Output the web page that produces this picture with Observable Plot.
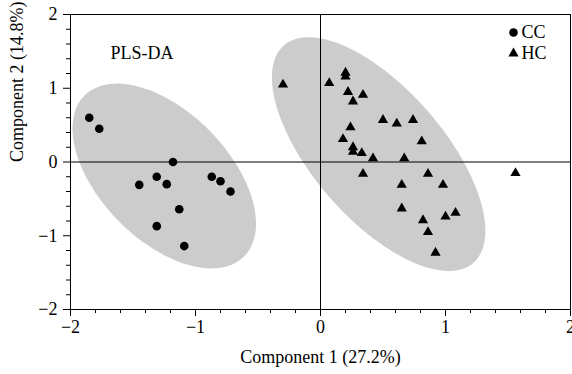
<!DOCTYPE html>
<html><head><meta charset="utf-8">
<script src="https://cdn.jsdelivr.net/npm/d3@7"></script>
<script src="https://cdn.jsdelivr.net/npm/@observablehq/plot@0.6"></script>
<style>body{margin:0;background:#fff}</style>
</head><body><div id="chart"></div>
<script>
// CC group scores
const ccX = [-1.85, -1.77, -1.18, -1.45, -1.31, -1.23, -0.87, -0.80, -0.72, -1.13, -1.31, -1.09];
const ccY = [0.60, 0.45, 0.00, -0.31, -0.20, -0.30, -0.20, -0.26, -0.40, -0.64, -0.87, -1.14];
// HC group scores
const hcX = [-0.30, 0.07, 0.20, 0.20, 0.22, 0.34, 0.26, 0.50, 0.61, 0.74, 0.81, 0.24, 0.18, 0.26, 0.26, 0.33, 0.42, 0.67, 0.34, 0.86, 0.98, 0.65, 0.65, 1.08, 1.00, 0.82, 0.86, 0.92, 1.56];
const hcY = [1.05, 1.07, 1.21, 1.16, 0.95, 0.91, 0.82, 0.57, 0.52, 0.57, 0.28, 0.47, 0.31, 0.20, 0.14, 0.12, 0.05, 0.05, -0.16, -0.16, -0.31, -0.31, -0.63, -0.69, -0.74, -0.79, -0.95, -1.23, -0.15];
// confidence ellipses: centre, half-extent in x and y, phase (deg)
const ellGroups = ["CC", "HC"];
const ellCx = [-1.25, 0.465];
const ellCy = [-0.19, 0.107];
const ellW = [0.734, 0.854];
const ellH = [1.253, 1.585];
const ellPhase = [121, 131];
// ticks and labels
const majorTicks = [-2, -1, 0, 1, 2];
const minorTicks = [-1.8, -1.6, -1.4, -1.2, -0.8, -0.6, -0.4, -0.2, 0.2, 0.4, 0.6, 0.8, 1.2, 1.4, 1.6, 1.8];
const xLabel = "Component 1 (27.2%)";
const yLabel = "Component 2 (14.8%)";
const title = "PLS-DA";
const legendLabels = ["CC", "HC"];

const cc = ccX.map((x, i) => ({x, y: ccY[i]}));
const hc = hcX.map((x, i) => ({x, y: hcY[i]}));
const ell = [];
ellGroups.forEach((g, k) => {
  const ph = ellPhase[k] * Math.PI / 180;
  for (let i = 0; i <= 120; i++) {
    const t = 2 * Math.PI * i / 120;
    ell.push({g, x: ellCx[k] + ellW[k] * Math.cos(t), y: ellCy[k] + ellH[k] * Math.cos(t + ph)});
  }
});

const fs = 18;
const fmt = d3.format("~g");
const chart = Plot.plot({
  width: 572, height: 374,
  marginLeft: 70, marginRight: 2, marginTop: 14, marginBottom: 65,
  style: {fontFamily: "Liberation Serif", fontSize: fs + "px", background: "#fff", color: "#000"},
  x: {domain: [-2, 2]},
  y: {domain: [-2, 2]},
  marks: [
    Plot.line(ell, {x: "x", y: "y", z: "g", fill: "#cccccc", stroke: "none"}),
    Plot.ruleX([0], {stroke: "#000", strokeWidth: 1}),
    Plot.ruleY([0], {stroke: "#000", strokeWidth: 1}),
    Plot.frame({stroke: "#000"}),
    Plot.axisX(majorTicks, {tickSize: 7, tickPadding: 4, tickFormat: fmt, label: null, fontSize: fs}),
    Plot.axisX(minorTicks, {tickSize: 4, text: null, label: null}),
    Plot.axisY(majorTicks, {tickSize: 7, tickPadding: 6, tickFormat: fmt, label: null, fontSize: fs}),
    Plot.axisY(minorTicks, {tickSize: 4, text: null, label: null}),
    Plot.dot(cc, {x: "x", y: "y", r: 4.3, fill: "#000", stroke: "none", symbol: "circle"}),
    Plot.dot(hc, {x: "x", y: "y", r: 3.8, fill: "#000", stroke: "none", symbol: "triangle"}),
    Plot.text([xLabel], {frameAnchor: "bottom", dy: 48, fontSize: fs, lineAnchor: "middle"}),
    Plot.text([yLabel], {frameAnchor: "left", dx: -53, rotate: -90, fontSize: fs, lineAnchor: "middle"}),
    Plot.text([title], {frameAnchor: "top-left", dx: 40, dy: 39, textAnchor: "start", fontSize: fs, lineAnchor: "middle"}),
    Plot.dot([legendLabels[0]], {frameAnchor: "top-right", dx: -57, dy: 18, r: 4.3, fill: "#000", stroke: "none", symbol: "circle"}),
    Plot.dot([legendLabels[1]], {frameAnchor: "top-right", dx: -57, dy: 39, r: 3.8, fill: "#000", stroke: "none", symbol: "triangle"}),
    Plot.text([legendLabels[0]], {frameAnchor: "top-right", dx: -49, dy: 18, textAnchor: "start", fontSize: fs, lineAnchor: "middle"}),
    Plot.text([legendLabels[1]], {frameAnchor: "top-right", dx: -49, dy: 39, textAnchor: "start", fontSize: fs, lineAnchor: "middle"})
  ]
});
document.getElementById("chart").appendChild(chart);
</script>
</body></html>
